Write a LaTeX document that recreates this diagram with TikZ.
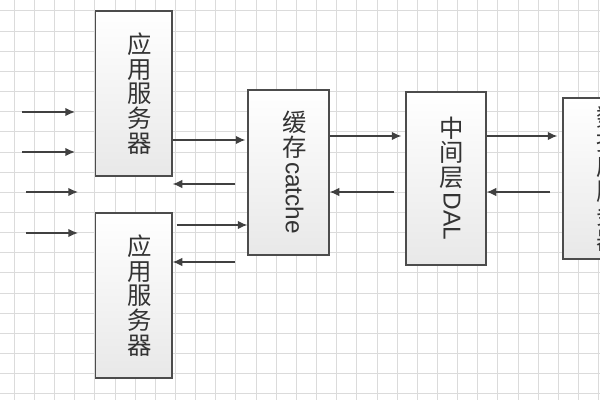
\documentclass[tikz,border=0pt]{standalone}
\usepackage{fontspec}
\setmainfont{Liberation Sans}
\newfontfamily\cjk{Noto Sans CJK SC}
\usetikzlibrary{arrows.meta,shadows}
\begin{document}
\begin{tikzpicture}[x=0.5pt,y=-0.5pt,
        gridline/.style={draw=black!14,line width=0.5pt},
        box/.style={draw=black!70,line width=0.65pt,top color=white,bottom color=black!9,inner sep=0pt,
            drop shadow={shadow xshift=0.7pt,shadow yshift=-0.7pt,opacity=0.18}},
        boxtext/.style={text=black!80,align=center,inner sep=0pt,font={\fontsize{12.2}{12.3}\selectfont\cjk}},
        arr/.style={draw=black!75,line width=0.65pt,-{Latex[length=4.8pt,width=4.2pt]}}]
        \useasboundingbox (0,0) rectangle (600,400);
        \clip (0,0) rectangle (600,400);
        \foreach \i in {0,...,29} \draw[gridline] ({14.3+20.15*\i},0) -- ++(0,400);
        \foreach \j in {0,...,19} \draw[gridline] (0,{11+20.15*\j}) -- ++(600,0);
        \node[box,minimum width=38.25pt,minimum height=82.5pt] (app1) at (133.75,93.5) {};
        \node[box,minimum width=38.25pt,minimum height=82.5pt] (app2) at (133.75,295.5) {};
        \node[box,minimum width=40.5pt,minimum height=82.5pt] (cache) at (288.5,172.5) {};
        \node[box,minimum width=40pt,minimum height=86.5pt] (dal) at (446,178.5) {};
        \node[box,minimum width=41pt,minimum height=80.5pt] (db) at (604,178.5) {};
        \node[boxtext] (app1txt) at ([xshift=3pt]app1.center) {应\\用\\服\\务\\器};
        \node[boxtext] (app2txt) at ([xshift=3pt]app2.center) {应\\用\\服\\务\\器};
        \node[boxtext] (cachetxt) at ([xshift=3pt]cache.center) {缓\\存\\[1pt]\rotatebox[origin=c]{-90}{\rmfamily catche}};
        \node[boxtext] (daltxt) at ([xshift=3pt]dal.center) {中\\间\\层\\[1pt]\rotatebox[origin=c]{-90}{\rmfamily DAL}};
        \node[boxtext] (dbtxt) at ([xshift=2.2pt]db.center) {数\\据\\库\\服\\务\\器};
        \coordinate (in1) at (22,112);
        \coordinate (in2) at (22,152);
        \coordinate (in3) at (26,192);
        \coordinate (in4) at (26,233);
        \draw[arr] (in1) -- ++(53,0);
        \draw[arr] (in2) -- ++(53,0);
        \draw[arr] (in3) -- ++(52,0);
        \draw[arr] (in4) -- ++(52,0);
        \draw[arr,shorten >=1pt] (app1.east |- 0,140) -- (cache.west |- 0,140);
        \draw[arr] ([xshift=-6pt]cache.west |- 0,184) -- (app1.east |- 0,184);
        \draw[arr,shorten <=2pt] (app2.east |- 0,225) -- (cache.west |- 0,225);
        \draw[arr] ([xshift=-6pt]cache.west |- 0,262) -- (app2.east |- 0,262);
        \draw[arr,shorten >=2pt] (cache.east |- 0,136) -- (dal.west |- 0,136);
        \draw[arr] ([xshift=-5.5pt]dal.west |- 0,192) -- (cache.east |- 0,192);
        \draw[arr,shorten >=2.5pt] (dal.east |- 0,136) -- (db.west |- 0,136);
        \draw[arr] ([xshift=-6pt]db.west |- 0,192) -- (dal.east |- 0,192);
    \end{tikzpicture}
\end{document}
